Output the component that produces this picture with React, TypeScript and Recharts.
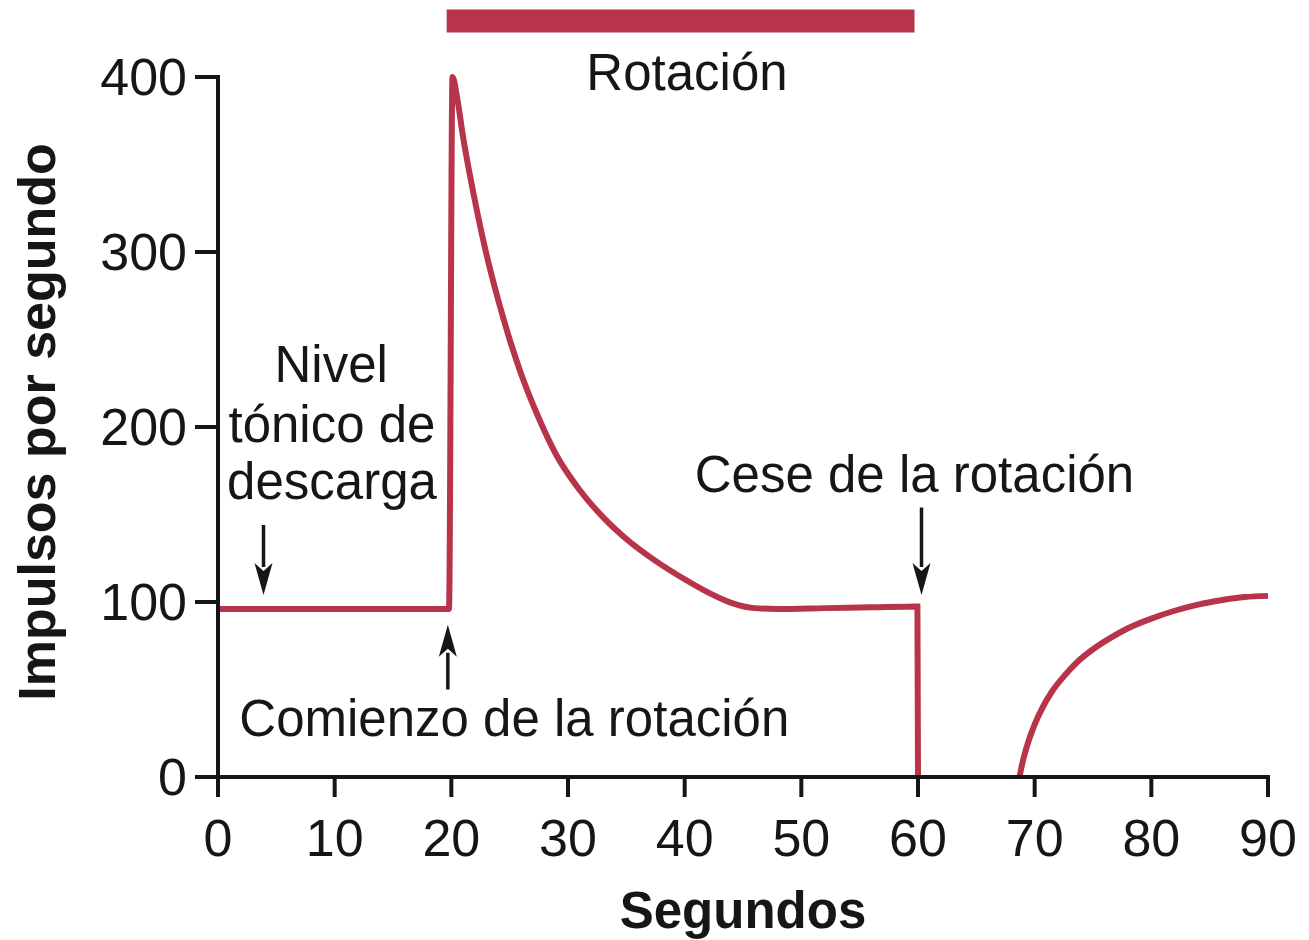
import React from "react"
import {
  LineChart,
  Line,
  XAxis,
  YAxis,
  Label,
  ReferenceLine,
  ReferenceDot,
} from "recharts"

// firing rate of the ampulla during rotation
const seconds = [
  0, 10, 19.8, 20.1, 20.5, 21, 22, 23, 24, 25, 26, 27.5, 29, 31, 33, 35, 37.5,
  40, 42, 44, 46, 48, 52, 56, 59.95, 60, 64, 68.7, 68.85, 69.1, 69.5, 70, 70.7, 71.5,
  72.5, 73.7, 75, 76.5, 78, 80, 82, 84, 86, 88, 90,
]
const impulses = [
  96, 96, 96, 400, 388, 366, 330, 299, 273, 250, 230, 205, 184, 164, 148.5, 136, 123.5,
  113, 105.5, 99.5, 96.5, 96, 96.5, 97, 97.5, 0, null, 0, 5, 12, 21, 30, 40, 49,
  57.5, 66, 73, 79.5, 85, 90.5, 95, 98.5, 101, 102.8, 103.5,
]

const xTicks = [0, 10, 20, 30, 40, 50, 60, 70, 80, 90]
const yTicks = [0, 100, 200, 300, 400]

// rotation period shown as the bar on top
const rotationStart = 19.6
const rotationEnd = 59.7

const data = seconds.map((t, i) => ({ t, rate: impulses[i] }))

const FONT = "'Liberation Sans', Arial, Helvetica, sans-serif"
const RED = "#b8344a"
const INK = "#161616"

function Arrow(props: any) {
  const { x1, y1, x2, y2 } = props
  const dir = y2 > y1 ? 1 : -1
  const head = 32
  const half = 9
  return (
    <g>
      <line x1={x1} y1={y1} x2={x2} y2={y2 - dir * head + dir * 4} stroke={INK} strokeWidth={3.5} />
      <polygon
        points={`${x2},${y2} ${x2 - half},${y2 - dir * head} ${x2},${y2 - dir * (head - 8)} ${x2 + half},${y2 - dir * head}`}
        fill={INK}
      />
    </g>
  )
}

function YTitle(props: any) {
  const vb = props.viewBox
  const x = vb.x + 55
  const y = vb.y + vb.height / 2 - 5
  return (
    <text
      x={x}
      y={y}
      transform={`rotate(-90 ${x} ${y})`}
      textAnchor="middle"
      fontFamily={FONT}
      fontWeight="bold"
      fontSize={52}
      fill={INK}
    >
      Impulsos por segundo
    </text>
  )
}

function XTitle(props: any) {
  const vb = props.viewBox
  return (
    <text
      x={vb.x + vb.width / 2}
      y={vb.y + 151}
      textAnchor="middle"
      fontFamily={FONT}
      fontWeight="bold"
      fontSize={51}
      fill={INK}
    >
      Segundos
    </text>
  )
}

const note = (value: string) => ({
  value,
  position: "center" as const,
  fontSize: 51,
  fontFamily: FONT,
  fill: INK,
})

export default function App() {
  return (
    <div style={{ position: "absolute", left: 0, top: 0, background: "#fff" }}>
      <LineChart
        width={1309}
        height={940}
        data={data}
        margin={{ top: 77, right: 41, bottom: 0, left: 0 }}
      >
        <XAxis
          dataKey="t"
          type="number"
          domain={[0, 90]}
          ticks={xTicks}
          interval={0}
          height={163}
          tickSize={20}
          tickMargin={22}
          axisLine={{ stroke: INK, strokeWidth: 4, strokeLinecap: "square" }}
          tickLine={{ stroke: INK, strokeWidth: 4 }}
          tick={{ fill: INK, fontSize: 52, fontFamily: FONT }}
        >
          <Label content={XTitle} />
        </XAxis>
        <YAxis
          type="number"
          domain={[0, 400]}
          ticks={yTicks}
          interval={0}
          width={218}
          tickSize={23}
          tickMargin={8}
          axisLine={{ stroke: INK, strokeWidth: 4, strokeLinecap: "square" }}
          tickLine={{ stroke: INK, strokeWidth: 4 }}
          tick={{ fill: INK, fontSize: 52, fontFamily: FONT }}
        >
          <Label content={YTitle} />
        </YAxis>

        <ReferenceLine
          segment={[
            { x: rotationStart, y: 432 },
            { x: rotationEnd, y: 432 },
          ]}
          stroke={RED}
          strokeWidth={23}
          ifOverflow="visible"
        />
        <ReferenceDot x={40.2} y={403} r={0} fill="none" stroke="none" ifOverflow="visible" label={note("Rotación")} />

        <ReferenceDot x={9.7} y={236} r={0} fill="none" stroke="none" ifOverflow="visible" label={note("Nivel")} />
        <ReferenceDot x={9.77} y={202} r={0} fill="none" stroke="none" ifOverflow="visible" label={note("tónico de")} />
        <ReferenceDot x={9.77} y={169} r={0} fill="none" stroke="none" ifOverflow="visible" label={note("descarga")} />
        <ReferenceDot x={59.7} y={173} r={0} fill="none" stroke="none" ifOverflow="visible" label={note("Cese de la rotación")} />
        <ReferenceDot x={25.4} y={34} r={0} fill="none" stroke="none" ifOverflow="visible" label={note("Comienzo de la rotación")} />

        <ReferenceLine
          segment={[
            { x: 3.9, y: 144 },
            { x: 3.9, y: 104 },
          ]}
          shape={Arrow}
          ifOverflow="visible"
        />
        <ReferenceLine
          segment={[
            { x: 19.7, y: 50 },
            { x: 19.7, y: 87 },
          ]}
          shape={Arrow}
          ifOverflow="visible"
        />
        <ReferenceLine
          segment={[
            { x: 60.3, y: 154 },
            { x: 60.3, y: 104 },
          ]}
          shape={Arrow}
          ifOverflow="visible"
        />

        <Line
          type="monotone"
          dataKey="rate"
          stroke={RED}
          strokeWidth={6}
          dot={false}
          isAnimationActive={false}
        />
      </LineChart>
    </div>
  )
}
